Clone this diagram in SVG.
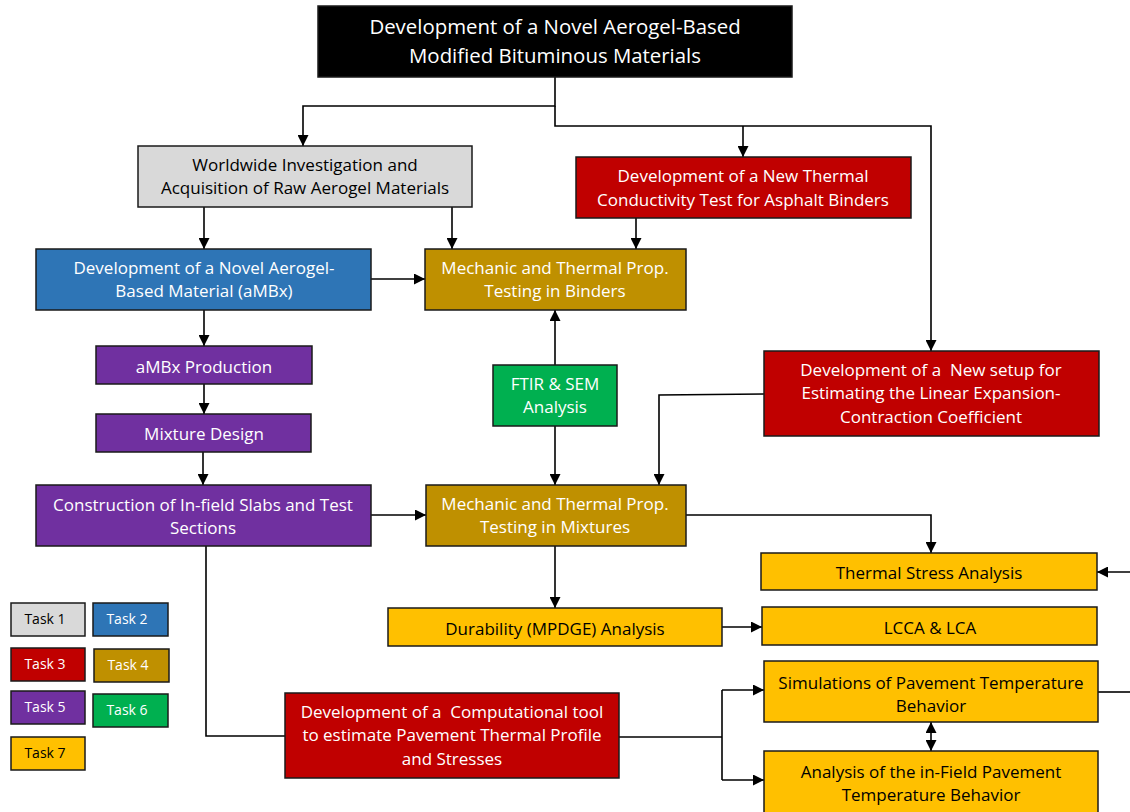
<svg xmlns="http://www.w3.org/2000/svg" width="1130" height="812" viewBox="0 0 1130 812">
<defs>
<marker id="ah" viewBox="0 0 10 10" refX="10" refY="5" markerWidth="11" markerHeight="11" markerUnits="userSpaceOnUse" orient="auto-start-reverse">
<path d="M0,0 L10,5 L0,10 Z" fill="#000"/>
</marker>
<style>
rect{stroke:#1a1a1a;stroke-width:1.5}
text{font-family:"Open Sans",Lato,"Liberation Sans",sans-serif;font-size:17px;text-anchor:middle}
.w{fill:#fff}.k{fill:#000}
.gray{fill:#d9d9d9}.blue{fill:#2e75b6}.red{fill:#c00000}.gold{fill:#bf9000}.purple{fill:#7030a0}.green{fill:#00b050}.yellow{fill:#ffc000}
.c{fill:none;stroke:#000;stroke-width:1.6}
.lg{font-size:14px}
</style>
</defs>
<rect width="1130" height="812" fill="#fff" style="stroke:none"/>

<g id="connectors">
<path class="c" d="M555,77 V106 H303 V146" marker-end="url(#ah)"/>
<path class="c" d="M555,106 V126 H931 V351" marker-end="url(#ah)"/>
<path class="c" d="M743,126 V157" marker-end="url(#ah)"/>
<path class="c" d="M204,207 V249" marker-end="url(#ah)"/>
<path class="c" d="M452,207 V249" marker-end="url(#ah)"/>
<path class="c" d="M636,218 V249" marker-end="url(#ah)"/>
<path class="c" d="M371,279 H425" marker-end="url(#ah)"/>
<path class="c" d="M204,310 V346" marker-end="url(#ah)"/>
<path class="c" d="M204,384 V414" marker-end="url(#ah)"/>
<path class="c" d="M203,452 V485" marker-end="url(#ah)"/>
<path class="c" d="M371,515 H426" marker-end="url(#ah)"/>
<path class="c" d="M555,365 V310" marker-end="url(#ah)"/>
<path class="c" d="M555,426 V485" marker-end="url(#ah)"/>
<path class="c" d="M764,394 L659,395 V485" marker-end="url(#ah)"/>
<path class="c" d="M686,515 H931 V553" marker-end="url(#ah)"/>
<path class="c" d="M1130,572 H1097" marker-end="url(#ah)"/>
<path class="c" d="M555,546 V608" marker-end="url(#ah)"/>
<path class="c" d="M722,627 H762" marker-end="url(#ah)"/>
<path class="c" d="M206,546 V736 H285"/>
<path class="c" d="M619,737 H722"/>
<path class="c" d="M722,690 V780"/>
<path class="c" d="M722,690 H764" marker-end="url(#ah)"/>
<path class="c" d="M722,780 H764" marker-end="url(#ah)"/>
<path class="c" d="M1098,692 H1130"/>
<path class="c" d="M931,722 V751" marker-start="url(#ah)" marker-end="url(#ah)"/>
</g>

<g id="title">
<rect x="318" y="6" width="474" height="71" fill="#000"/>
<text class="w" style="font-size:20.4px" x="555" y="34">Development of a Novel Aerogel-Based</text>
<text class="w" style="font-size:20.4px" x="555" y="63">Modified Bituminous Materials</text>
</g>
<g id="n-worldwide">
<rect class="gray" x="138" y="146" width="334" height="61"/>
<text class="k" x="305" y="171">Worldwide Investigation and</text>
<text class="k" x="305" y="194">Acquisition of Raw Aerogel Materials</text>
</g>
<g id="n-amb">
<rect class="blue" x="36" y="249" width="335" height="61"/>
<text class="w" x="204" y="274">Development of a Novel Aerogel-</text>
<text class="w" x="204" y="297">Based Material (aMBx)</text>
</g>
<g id="n-thermal-cond">
<rect class="red" x="576" y="157" width="335" height="61"/>
<text class="w" x="743" y="182">Development of a New Thermal</text>
<text class="w" x="743" y="206">Conductivity Test for Asphalt Binders</text>
</g>
<g id="n-binders">
<rect class="gold" x="425" y="249" width="261" height="61"/>
<text class="w" x="555" y="274">Mechanic and Thermal Prop.</text>
<text class="w" x="555" y="297">Testing in Binders</text>
</g>
<g id="n-production">
<rect class="purple" x="96" y="346" width="216" height="38"/>
<text class="w" x="204" y="373">aMBx Production</text>
</g>
<g id="n-mixture">
<rect class="purple" x="96" y="414" width="215" height="38"/>
<text class="w" x="204" y="440">Mixture Design</text>
</g>
<g id="n-construction">
<rect class="purple" x="36" y="485" width="335" height="61"/>
<text class="w" x="203" y="511">Construction of In-field Slabs and Test</text>
<text class="w" x="203" y="534">Sections</text>
</g>
<g id="n-ftir">
<rect class="green" x="493" y="365" width="124" height="61"/>
<text class="w" x="555" y="390">FTIR &amp; SEM</text>
<text class="w" x="555" y="413">Analysis</text>
</g>
<g id="n-linear">
<rect class="red" x="764" y="351" width="335" height="85"/>
<text class="w" x="931" y="376" xml:space="preserve">Development of a  New setup for</text>
<text class="w" x="931" y="399">Estimating the Linear Expansion-</text>
<text class="w" x="931" y="423">Contraction Coefficient</text>
</g>
<g id="n-mixtures">
<rect class="gold" x="426" y="485" width="260" height="61"/>
<text class="w" x="555" y="510">Mechanic and Thermal Prop.</text>
<text class="w" x="555" y="533">Testing in Mixtures</text>
</g>
<g id="n-stress">
<rect class="yellow" x="761" y="553" width="336" height="37"/>
<text class="k" x="929" y="579">Thermal Stress Analysis</text>
</g>
<g id="n-durability">
<rect class="yellow" x="388" y="608" width="334" height="38"/>
<text class="k" x="555" y="635">Durability (MPDGE) Analysis</text>
</g>
<g id="n-lcca">
<rect class="yellow" x="762" y="607" width="335" height="38"/>
<text class="k" x="930" y="634">LCCA &amp; LCA</text>
</g>
<g id="n-computational">
<rect class="red" x="285" y="693" width="334" height="85"/>
<text class="w" x="452" y="718" xml:space="preserve">Development of a  Computational tool</text>
<text class="w" x="452" y="741">to estimate Pavement Thermal Profile</text>
<text class="w" x="452" y="765">and Stresses</text>
</g>
<g id="n-simulations">
<rect class="yellow" x="764" y="661" width="334" height="61"/>
<text class="k" x="931" y="689">Simulations of Pavement Temperature</text>
<text class="k" x="931" y="712">Behavior</text>
</g>
<g id="n-analysis">
<rect class="yellow" x="764" y="751" width="334" height="66"/>
<text class="k" x="931" y="778">Analysis of the in-Field Pavement</text>
<text class="k" x="931" y="801">Temperature Behavior</text>
</g>

<g id="legend">
<rect class="gray" x="11" y="603" width="74" height="33"/>
<text class="k lg" x="45" y="624">Task 1</text>
<rect class="blue" x="93" y="603" width="75" height="33"/>
<text class="w lg" x="127" y="624">Task 2</text>
<rect class="red" x="11" y="648" width="74" height="33"/>
<text class="w lg" x="45" y="669">Task 3</text>
<rect class="gold" x="94" y="649" width="75" height="33"/>
<text class="w lg" x="128" y="670">Task 4</text>
<rect class="purple" x="11" y="691" width="74" height="33"/>
<text class="w lg" x="45" y="712">Task 5</text>
<rect class="green" x="93" y="694" width="75" height="33"/>
<text class="w lg" x="127" y="715">Task 6</text>
<rect class="yellow" x="11" y="737" width="74" height="33"/>
<text class="k lg" x="45" y="758">Task 7</text>
</g>
</svg>
